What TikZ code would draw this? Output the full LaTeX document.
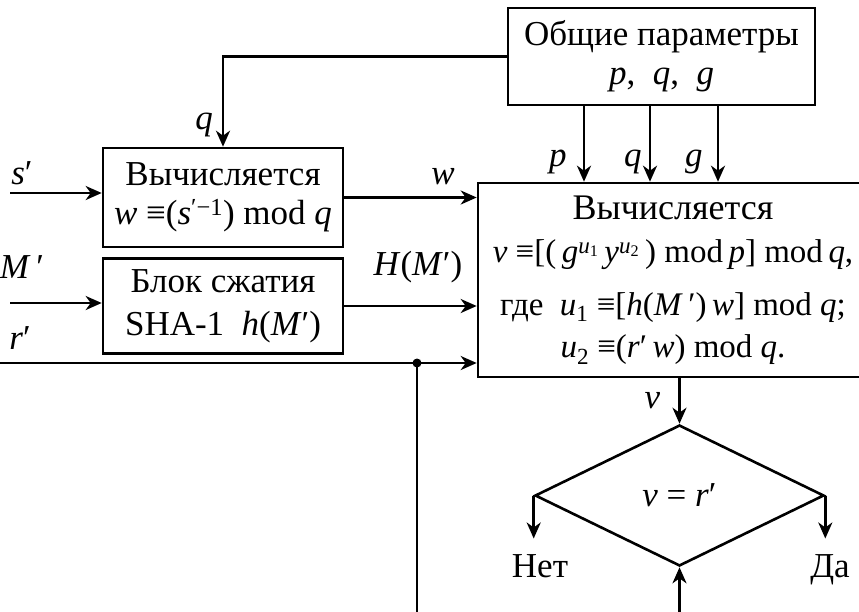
\documentclass[tikz,border=0pt]{standalone}
\usepackage{fontspec}
\setmainfont{Liberation Serif}
\usetikzlibrary{shapes.geometric, arrows.meta, positioning}

\newcommand{\iv}[1]{\textit{#1}}
\newcommand{\fml}{\fontsize{33}{39}\selectfont}

\begin{document}
\begin{tikzpicture}[x=1pt, y=-1pt, line width=2.6pt,
    >={Stealth[length=16pt, width=14pt, inset=5pt]},
    every node/.style={font=\fontsize{35}{39}\selectfont},
    blok/.style={draw, rectangle, align=center, inner sep=0pt},
    lbl/.style={inner sep=0pt}]
  \useasboundingbox (0,0) rectangle (859,611);

  % blocks
  \node[blok, minimum width=307, minimum height=97] (params) at (661.5,56.5)
    {Общие параметры\\\iv{p}, \ \iv{q}, \ \iv{g}};
  \node[blok, minimum width=240, minimum height=99] (calcw) at (223,197.5)
    {Вычисляется\\\iv{w} ≡(\iv{s}\textsuperscript{′−1}) mod \iv{q}};
  \node[blok, minimum width=240, minimum height=95] (hash) at (223,306)
    {Блок сжатия\\[4pt]SHA-1 \ \iv{h}(\iv{M}′)};
  \node[blok, minimum width=390, minimum height=194] (verify) at (673,280)
    {{\fontsize{36}{39}\selectfont Вычисляется}\\[4pt]
     \fml\iv{v} ≡[(\,\iv{g}\textsuperscript{\iv{u}\textsubscript{1}}\,\iv{y}\textsuperscript{\iv{u}\textsubscript{2}}\,) mod\,\iv{p}] mod\,\iv{q},\\[14pt]
     \fml где \ \iv{u}\textsubscript{1} ≡[\iv{h}(\iv{M}\,′)\,\iv{w}] mod \iv{q};\\[3pt]
     \fml\iv{u}\textsubscript{2} ≡(\iv{r}′\,\iv{w}) mod \iv{q}.};
  \node[draw, diamond, minimum width=289, minimum height=141, inner sep=0pt] (cmp) at (679.5,495.5)
    {\iv{v} = \iv{r}′};

  % labels
  \node[lbl] (sl) at (22,173) {\iv{s}′};
  \node[lbl] (ml) at (22,267) {\iv{M}\,′};
  \node[lbl] (rl) at (20,338) {\iv{r}′};
  \node[lbl] (wl) at (443,177) {\iv{w}};
  \node[lbl] (hl) at (418,267) {\iv{H}(\iv{M}′)};
  \node[lbl] (ql) at (204,125) {\iv{q}};
  \node[lbl] (no) at (540,566) {Нет};
  \node[lbl] (yes) at (830,570) {Да};

  \coordinate (sin) at (10,193);
  \coordinate (min) at (10,303);
  \coordinate (rin) at (0,363);
  \coordinate (tap) at (417,363);
  \coordinate (fb) at (417,620);
  \coordinate (pa) at (584,0);
  \coordinate (qa) at (650,0);
  \coordinate (ga) at (718,0);

  % connectors
  \draw[->] (params.west) -| (calcw.north);
  \draw[->] (sin) -- (sin -| calcw.west);
  \draw[->] (min) -- (min -| hash.west);
  \draw[->] (calcw.east) -- (calcw.east -| verify.west);
  \draw[->] (hash.east) -- (hash.east -| verify.west);
  \draw[->] (rin) -- (rin -| verify.west);
  \fill (tap) circle (4.5);
  \draw (tap) -- (fb);
  \draw[->] (cmp.south |- fb) -- (cmp.south);
  \foreach \c/\t/\d in {pa/p/16, qa/q/7, ga/g/14}
    \draw[->] (params.south -| \c) -- (verify.north -| \c)
      node[lbl, pos=1, anchor=south east, xshift=-\d, yshift=6] (\c l) {\iv{\t}};
  \draw[->] (cmp.north |- verify.south) -- (cmp.north) node[lbl, midway, left=18pt] (vl) {\iv{v}};
  \draw[->] (cmp.west) -- ++(0,43);
  \draw[->] (cmp.east) -- ++(0,43);
\end{tikzpicture}
\end{document}
